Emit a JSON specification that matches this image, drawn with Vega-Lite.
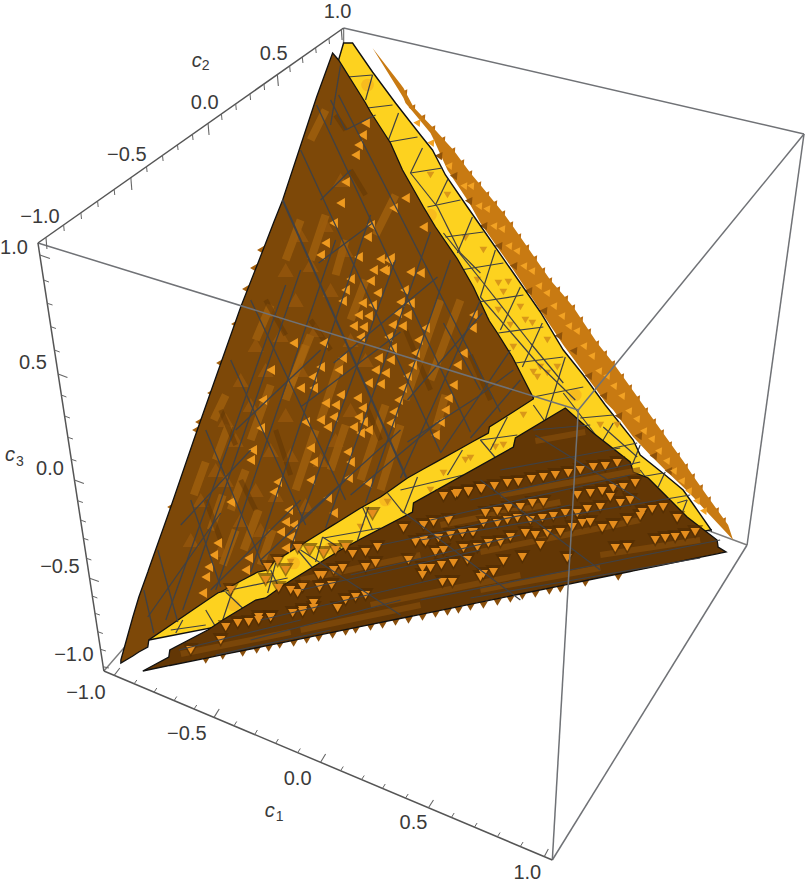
{"$schema":"https://vega.github.io/schema/vega-lite/v6.json","width":807,"height":887,"padding":0,"autosize":{"type":"fit","contains":"padding"},"background":"white","config":{"view":{"stroke":null}},
"datasets":{
"surfD":[{"x":372,"y":48,"y2":48},{"x":400,"y":84,"y2":93},{"x":403,"y":88,"y2":98},{"x":405,"y":92,"y2":103},{"x":413,"y":107,"y2":112.6},{"x":430,"y":125,"y2":133},{"x":433,"y":128,"y2":139},{"x":447,"y":143.4,"y2":170},{"x":453,"y":150,"y2":179},{"x":467,"y":169,"y2":200},{"x":470,"y":173,"y2":205},{"x":480,"y":185,"y2":223},{"x":503,"y":213,"y2":255.7},{"x":513,"y":227,"y2":270},{"x":527,"y":247,"y2":291},{"x":550,"y":280,"y2":325.5},{"x":563,"y":295,"y2":345},{"x":573,"y":307,"y2":358.6},{"x":597,"y":343,"y2":391},{"x":605,"y":353,"y2":402},{"x":613,"y":363,"y2":410},{"x":633,"y":391,"y2":437},{"x":650,"y":415,"y2":455},{"x":665,"y":436,"y2":470},{"x":683,"y":461,"y2":487},{"x":693,"y":476,"y2":497},{"x":705,"y":493,"y2":510},{"x":728,"y":525,"y2":534.6},{"x":733,"y":540,"y2":540}],
"surfY":[{"x":148,"y":640,"y2":640},{"x":338,"y":60,"y2":603},{"x":343,"y":43,"y2":602},{"x":352,"y":43,"y2":600.1},{"x":372,"y":72,"y2":596.2},{"x":395,"y":103,"y2":591.7},{"x":420,"y":135,"y2":586.8},{"x":432,"y":150,"y2":584.4},{"x":445,"y":175,"y2":581.9},{"x":467,"y":207,"y2":577.6},{"x":490,"y":240,"y2":573.1},{"x":513,"y":273,"y2":568.6},{"x":540,"y":312,"y2":563.3},{"x":563,"y":350,"y2":558.8},{"x":583,"y":375,"y2":554.9},{"x":605,"y":405,"y2":550.6},{"x":633,"y":440,"y2":545.1},{"x":640,"y":455,"y2":543.7},{"x":665,"y":475,"y2":538.8},{"x":683,"y":490,"y2":535.3},{"x":695,"y":507,"y2":533},{"x":711,"y":530,"y2":529.8}],
"surfA":[{"x":120,"y":660,"y2":663},{"x":132,"y":617,"y2":656},{"x":138,"y":597,"y2":652},{"x":147,"y":572,"y2":647},{"x":148,"y":569,"y2":640},{"x":170,"y":507,"y2":625},{"x":193,"y":440,"y2":609.3},{"x":217,"y":372,"y2":593},{"x":220,"y":363.5,"y2":592},{"x":240,"y":307,"y2":581},{"x":257,"y":263.7,"y2":572},{"x":267,"y":238,"y2":570},{"x":273,"y":222.6,"y2":562},{"x":282,"y":200,"y2":556.4},{"x":316,"y":97,"y2":535.3},{"x":332,"y":53,"y2":525.4},{"x":338,"y":60,"y2":521.7},{"x":360,"y":95,"y2":508},{"x":365,"y":103,"y2":505.3},{"x":370,"y":112,"y2":502.5},{"x":380,"y":127.5,"y2":497},{"x":390,"y":143,"y2":490},{"x":402,"y":170,"y2":481.5},{"x":407,"y":178.8,"y2":478},{"x":423,"y":207,"y2":469},{"x":435,"y":227,"y2":462.4},{"x":457,"y":259,"y2":450.2},{"x":473,"y":287,"y2":441.3},{"x":487,"y":317,"y2":433.6},{"x":488,"y":319,"y2":433},{"x":489,"y":321,"y2":427},{"x":497,"y":333,"y2":422},{"x":512,"y":357,"y2":412.5},{"x":533,"y":398,"y2":399}],
"surfC":[{"x":142,"y":671,"y2":671},{"x":168,"y":657,"y2":665.7},{"x":169,"y":650,"y2":665.5},{"x":207,"y":630,"y2":657.8},{"x":222,"y":620,"y2":654.7},{"x":255,"y":600,"y2":648},{"x":265,"y":598,"y2":645.9},{"x":283,"y":585,"y2":642.3},{"x":340,"y":550,"y2":630.6},{"x":362,"y":538,"y2":626.2},{"x":412,"y":512,"y2":616},{"x":413,"y":503,"y2":615.8},{"x":513,"y":447,"y2":595.4},{"x":515,"y":438,"y2":595},{"x":565,"y":408,"y2":584.8},{"x":593,"y":433,"y2":579},{"x":630,"y":462,"y2":571.5},{"x":633,"y":472,"y2":570.9},{"x":648,"y":478,"y2":567.9},{"x":663,"y":493,"y2":564.8},{"x":687,"y":517,"y2":559.9},{"x":717,"y":540,"y2":553.8},{"x":718,"y":547,"y2":553.6},{"x":726,"y":552,"y2":552}],
"boxBack":[{"x":343,"y":28,"x2":343,"y2":395},{"x":103,"y":671,"x2":343,"y2":395},{"x":747,"y":545,"x2":343,"y2":395}],
"boxFront":[{"x":37,"y":243,"x2":578,"y2":410},{"x":578,"y":410,"x2":552,"y2":860},{"x":578,"y":410,"x2":804,"y2":134},{"x":343,"y":28,"x2":804,"y2":134},{"x":804,"y":134,"x2":747,"y2":545},{"x":747,"y":545,"x2":552,"y2":860}],
"axes":[{"x":37,"y":243,"x2":343,"y2":28},{"x":37,"y":243,"x2":103,"y2":671},{"x":103,"y":671,"x2":552,"y2":860}],
"ticksMajor":[{"x":45,"y":237.4,"x2":46,"y2":249},{"x":130,"y":177.7,"x2":131,"y2":190},{"x":207.3,"y":123.3,"x2":208.3,"y2":135},{"x":276.7,"y":74.6,"x2":277.7,"y2":86},{"x":340.7,"y":29.6,"x2":341.5,"y2":40},{"x":38.9,"y":255,"x2":49,"y2":258.5},{"x":57.2,"y":374,"x2":66.5,"y2":377.5},{"x":73.5,"y":480,"x2":83,"y2":483.5},{"x":88.7,"y":578.3,"x2":98,"y2":581.5},{"x":102.3,"y":666.7,"x2":108,"y2":668},{"x":113.3,"y":675.3,"x2":119,"y2":668},{"x":213.3,"y":717.4,"x2":218.5,"y2":709},{"x":320,"y":762.3,"x2":325,"y2":754},{"x":428,"y":807.8,"x2":433,"y2":800},{"x":544,"y":856.6,"x2":548,"y2":849}],
"ticksMinor":[{"x":62.7,"y":225,"x2":63.3,"y2":231},{"x":80,"y":212.8,"x2":80.6,"y2":219},{"x":96.7,"y":201,"x2":97.3,"y2":207},{"x":113.3,"y":189.4,"x2":113.9,"y2":195},{"x":145.7,"y":166.6,"x2":146.3,"y2":172},{"x":161.7,"y":155.4,"x2":162.3,"y2":161},{"x":176.7,"y":144.8,"x2":177.3,"y2":150},{"x":191.7,"y":134.3,"x2":192.3,"y2":140},{"x":220.7,"y":114,"x2":221.3,"y2":120},{"x":235,"y":103.9,"x2":235.6,"y2":110},{"x":249.3,"y":93.8,"x2":249.9,"y2":100},{"x":263.3,"y":84,"x2":263.9,"y2":90},{"x":289,"y":66,"x2":289.6,"y2":72},{"x":301.7,"y":57,"x2":302.3,"y2":63},{"x":315,"y":47.7,"x2":315.6,"y2":53},{"x":328.3,"y":38.3,"x2":328.9,"y2":44},{"x":42.7,"y":280,"x2":48,"y2":282},{"x":46.3,"y":303.3,"x2":51.6,"y2":305},{"x":49.9,"y":326.7,"x2":55,"y2":328.5},{"x":53.5,"y":350,"x2":58.8,"y2":352},{"x":60.4,"y":395,"x2":65.5,"y2":397},{"x":63.7,"y":416,"x2":69,"y2":418},{"x":67,"y":437.3,"x2":72,"y2":439},{"x":70.4,"y":459.3,"x2":75.5,"y2":461},{"x":76.7,"y":500.7,"x2":82,"y2":502.5},{"x":79.7,"y":520,"x2":85,"y2":522},{"x":82.5,"y":538.3,"x2":87.5,"y2":540},{"x":85.6,"y":558.3,"x2":90.5,"y2":560},{"x":91.4,"y":596,"x2":96.5,"y2":598},{"x":94.1,"y":613.3,"x2":99,"y2":615},{"x":96.9,"y":631.7,"x2":102,"y2":633.5},{"x":99.7,"y":649.3,"x2":105,"y2":651},{"x":133.3,"y":683.8,"x2":136,"y2":680},{"x":153.3,"y":692.2,"x2":156,"y2":688},{"x":173.3,"y":700.6,"x2":176,"y2":696.5},{"x":193.3,"y":709,"x2":196,"y2":705},{"x":233.3,"y":725.8,"x2":236,"y2":721.5},{"x":254,"y":734.6,"x2":256.7,"y2":730},{"x":275,"y":743.4,"x2":277.7,"y2":739},{"x":297,"y":752.7,"x2":299.7,"y2":748.5},{"x":340,"y":770.8,"x2":342.7,"y2":766.5},{"x":361,"y":779.6,"x2":363.7,"y2":775.5},{"x":382,"y":788.4,"x2":384.7,"y2":784},{"x":405,"y":798.1,"x2":407.7,"y2":794},{"x":451,"y":817.5,"x2":453.7,"y2":813},{"x":474,"y":827.2,"x2":476.7,"y2":823},{"x":497,"y":836.8,"x2":499.7,"y2":832.5},{"x":520,"y":846.5,"x2":522.7,"y2":842}],
"tickLabels":[{"x":337,"y":12,"t":"1.0"},{"x":273,"y":54,"t":"0.5"},{"x":204,"y":103,"t":"0.0"},{"x":126,"y":155,"t":"−0.5"},{"x":39,"y":217,"t":"−1.0"},{"x":13,"y":248,"t":"1.0"},{"x":32,"y":363,"t":"0.5"},{"x":49,"y":469,"t":"0.0"},{"x":59,"y":567,"t":"−0.5"},{"x":73,"y":655,"t":"−1.0"},{"x":85,"y":693,"t":"−1.0"},{"x":186,"y":734,"t":"−0.5"},{"x":297,"y":779,"t":"0.0"},{"x":413,"y":823,"t":"0.5"},{"x":527,"y":873,"t":"1.0"}],
"titleC":[{"x":269,"y":811,"t":"c"},{"x":196,"y":61,"t":"c"},{"x":9,"y":455,"t":"c"}],
"titleSub":[{"x":279,"y":817,"t":"1"},{"x":205,"y":66,"t":"2"},{"x":19,"y":462,"t":"3"}],
"spikeDEdge":[{"x":405,"y":92},{"x":413,"y":107},{"x":423,"y":117},{"x":433,"y":128},{"x":443,"y":139},{"x":453,"y":150},{"x":462,"y":162},{"x":470,"y":173},{"x":479,"y":184},{"x":487,"y":194},{"x":495,"y":203},{"x":503,"y":213},{"x":511,"y":224},{"x":519,"y":236},{"x":527,"y":247},{"x":535,"y":258},{"x":543,"y":270},{"x":550,"y":280},{"x":558,"y":289},{"x":566,"y":298},{"x":573,"y":307},{"x":581,"y":319},{"x":589,"y":331},{"x":597,"y":343},{"x":605,"y":353},{"x":613,"y":363},{"x":622,"y":376},{"x":630,"y":387},{"x":638,"y":398},{"x":646,"y":410},{"x":654,"y":421},{"x":662,"y":432},{"x":670,"y":444},{"x":678,"y":455},{"x":686,"y":466},{"x":693,"y":476},{"x":701,"y":487},{"x":709,"y":499},{"x":717,"y":510},{"x":724,"y":520}],
"spikeDBright":[{"x":450,"y":165},{"x":465,"y":185},{"x":480,"y":205},{"x":495,"y":225},{"x":510,"y":245},{"x":525,"y":265},{"x":540,"y":285},{"x":555,"y":305},{"x":570,"y":325},{"x":585,"y":345},{"x":600,"y":370},{"x":615,"y":385},{"x":630,"y":410},{"x":645,"y":430},{"x":660,"y":450},{"x":675,"y":470},{"x":690,"y":490},{"x":705,"y":510},{"x":432,"y":142},{"x":418,"y":122},{"x":472,"y":185},{"x":488,"y":208},{"x":503,"y":228},{"x":518,"y":250},{"x":533,"y":270},{"x":548,"y":292},{"x":563,"y":315},{"x":578,"y":330},{"x":593,"y":355},{"x":608,"y":375},{"x":623,"y":395},{"x":638,"y":418},{"x":653,"y":438},{"x":668,"y":460},{"x":683,"y":480},{"x":698,"y":500}],
"spikeDDark":[{"x":485,"y":225},{"x":500,"y":245},{"x":515,"y":265},{"x":530,"y":290},{"x":545,"y":310},{"x":560,"y":335},{"x":575,"y":350},{"x":590,"y":375},{"x":605,"y":395},{"x":620,"y":415},{"x":640,"y":435},{"x":655,"y":455},{"x":670,"y":470},{"x":470,"y":200},{"x":455,"y":175},{"x":440,"y":155}],
"hotY":[{"x":367,"y":85},{"x":233,"y":605},{"x":293,"y":563},{"x":385,"y":500},{"x":650,"y":490},{"x":430,"y":240},{"x":430,"y":215},{"x":515,"y":380},{"x":575,"y":395},{"x":330,"y":548}],
"blotY":[{"x":498,"y":283},{"x":508,"y":282},{"x":525,"y":320},{"x":532,"y":323},{"x":510,"y":325},{"x":498,"y":310},{"x":520,"y":307},{"x":483,"y":250},{"x":537,"y":377},{"x":547,"y":340},{"x":513,"y":347},{"x":477,"y":280},{"x":503,"y":292},{"x":557,"y":367},{"x":540,"y":367},{"x":503,"y":445},{"x":495,"y":447},{"x":523,"y":415},{"x":600,"y":425},{"x":617,"y":425},{"x":533,"y":372},{"x":547,"y":373},{"x":465,"y":460},{"x":443,"y":473},{"x":470,"y":458},{"x":430,"y":175},{"x":465,"y":238},{"x":447,"y":195},{"x":290,"y":562},{"x":387,"y":502},{"x":360,"y":527},{"x":615,"y":470},{"x":430,"y":490}],
"meshY":[{"x":347,"y":77,"x2":372,"y2":75},{"x":367,"y":108,"x2":392,"y2":105},{"x":388,"y":142,"x2":417,"y2":137},{"x":410,"y":173,"x2":442,"y2":168},{"x":427,"y":207,"x2":460,"y2":200},{"x":445,"y":237,"x2":483,"y2":232},{"x":460,"y":270,"x2":503,"y2":263},{"x":478,"y":302,"x2":523,"y2":295},{"x":498,"y":333,"x2":543,"y2":327},{"x":515,"y":363,"x2":563,"y2":357},{"x":533,"y":397,"x2":583,"y2":387},{"x":580,"y":418,"x2":613,"y2":415},{"x":613,"y":448,"x2":637,"y2":443},{"x":640,"y":477,"x2":663,"y2":473},{"x":677,"y":503,"x2":687,"y2":500},{"x":480,"y":440,"x2":517,"y2":435},{"x":220,"y":592,"x2":287,"y2":578},{"x":323,"y":538,"x2":380,"y2":528},{"x":400,"y":490,"x2":463,"y2":475},{"x":170,"y":630,"x2":205,"y2":625},{"x":372,"y":75,"x2":365,"y2":100},{"x":398,"y":113,"x2":388,"y2":140},{"x":422,"y":148,"x2":410,"y2":173},{"x":448,"y":178,"x2":435,"y2":205},{"x":472,"y":217,"x2":457,"y2":253},{"x":495,"y":250,"x2":480,"y2":297},{"x":520,"y":287,"x2":500,"y2":330},{"x":542,"y":323,"x2":522,"y2":367},{"x":565,"y":357,"x2":545,"y2":420},{"x":613,"y":423,"x2":600,"y2":445},{"x":640,"y":445,"x2":632,"y2":465},{"x":665,"y":472,"x2":658,"y2":487},{"x":687,"y":500,"x2":682,"y2":513},{"x":507,"y":417,"x2":490,"y2":450},{"x":462,"y":450,"x2":447,"y2":475},{"x":417,"y":477,"x2":403,"y2":513},{"x":368,"y":507,"x2":357,"y2":540},{"x":322,"y":537,"x2":315,"y2":562},{"x":275,"y":563,"x2":267,"y2":593},{"x":232,"y":590,"x2":222,"y2":620},{"x":182,"y":620,"x2":175,"y2":633},{"x":410,"y":173,"x2":437,"y2":207},{"x":437,"y":207,"x2":460,"y2":253},{"x":460,"y":253,"x2":480,"y2":273},{"x":443,"y":233,"x2":483,"y2":283},{"x":483,"y":283,"x2":530,"y2":343},{"x":530,"y":343,"x2":563,"y2":383},{"x":480,"y":297,"x2":537,"y2":363},{"x":537,"y":363,"x2":575,"y2":400},{"x":563,"y":393,"x2":607,"y2":450},{"x":603,"y":427,"x2":637,"y2":457},{"x":480,"y":440,"x2":497,"y2":460},{"x":533,"y":405,"x2":545,"y2":422},{"x":387,"y":493,"x2":403,"y2":513},{"x":362,"y":507,"x2":372,"y2":530},{"x":322,"y":537,"x2":342,"y2":550},{"x":297,"y":550,"x2":312,"y2":568},{"x":270,"y":570,"x2":278,"y2":587},{"x":225,"y":592,"x2":247,"y2":613},{"x":205,"y":610,"x2":215,"y2":627},{"x":640,"y":470,"x2":670,"y2":510}],
"streakLight":[{"x":215,"y":460,"x2":228,"y2":425},{"x":193,"y":495,"x2":205,"y2":462},{"x":230,"y":510,"x2":245,"y2":470},{"x":210,"y":530,"x2":222,"y2":495},{"x":243,"y":550,"x2":258,"y2":510},{"x":222,"y":565,"x2":235,"y2":530},{"x":260,"y":565,"x2":272,"y2":530},{"x":285,"y":400,"x2":305,"y2":345},{"x":320,"y":420,"x2":340,"y2":360},{"x":290,"y":385,"x2":310,"y2":335},{"x":213,"y":420,"x2":225,"y2":395},{"x":285,"y":260,"x2":300,"y2":220},{"x":310,"y":260,"x2":325,"y2":215},{"x":335,"y":275,"x2":345,"y2":240},{"x":380,"y":490,"x2":400,"y2":425},{"x":405,"y":400,"x2":440,"y2":300},{"x":430,"y":380,"x2":460,"y2":300},{"x":360,"y":480,"x2":385,"y2":405},{"x":435,"y":430,"x2":445,"y2":395},{"x":350,"y":320,"x2":365,"y2":280},{"x":295,"y":490,"x2":315,"y2":430},{"x":330,"y":470,"x2":345,"y2":425},{"x":250,"y":440,"x2":270,"y2":385},{"x":255,"y":340,"x2":270,"y2":305},{"x":310,"y":140,"x2":325,"y2":110},{"x":375,"y":235,"x2":395,"y2":195}],
"streakDark":[{"x":345,"y":130,"x2":335,"y2":115},{"x":350,"y":170,"x2":365,"y2":195},{"x":405,"y":330,"x2":430,"y2":390},{"x":470,"y":355,"x2":490,"y2":400},{"x":275,"y":430,"x2":290,"y2":475},{"x":240,"y":480,"x2":255,"y2":510},{"x":310,"y":320,"x2":330,"y2":350},{"x":365,"y":405,"x2":380,"y2":440},{"x":205,"y":500,"x2":220,"y2":540},{"x":265,"y":300,"x2":285,"y2":335},{"x":220,"y":410,"x2":235,"y2":445}],
"spikeA":[{"x":340,"y":203},{"x":333,"y":223},{"x":370,"y":225},{"x":367,"y":237},{"x":325,"y":243},{"x":320,"y":255},{"x":358,"y":257},{"x":380,"y":259},{"x":388,"y":260},{"x":373,"y":270},{"x":385,"y":271},{"x":350,"y":279},{"x":370,"y":281},{"x":410,"y":272},{"x":420,"y":273},{"x":345,"y":290},{"x":404,"y":290},{"x":377,"y":293},{"x":342,"y":301},{"x":400,"y":302},{"x":410,"y":303},{"x":362,"y":303},{"x":372,"y":305},{"x":358,"y":315},{"x":368,"y":316},{"x":397,"y":313},{"x":407,"y":315},{"x":353,"y":326},{"x":363,"y":327},{"x":392,"y":325},{"x":402,"y":326},{"x":425,"y":328},{"x":473,"y":315},{"x":472,"y":328},{"x":360,"y":337},{"x":388,"y":337},{"x":418,"y":340},{"x":463,"y":353},{"x":392,"y":348},{"x":415,"y":353},{"x":378,"y":358},{"x":390,"y":360},{"x":375,"y":370},{"x":385,"y":373},{"x":412,"y":365},{"x":457,"y":365},{"x":368,"y":383},{"x":407,"y":376},{"x":380,"y":384},{"x":453,"y":385},{"x":402,"y":388},{"x":448,"y":398},{"x":398,"y":400},{"x":445,"y":410},{"x":393,"y":412},{"x":440,"y":422},{"x":435,"y":435},{"x":390,"y":423},{"x":323,"y":343},{"x":342,"y":358},{"x":338,"y":370},{"x":320,"y":367},{"x":313,"y":388},{"x":340,"y":395},{"x":335,"y":405},{"x":325,"y":403},{"x":357,"y":398},{"x":362,"y":408},{"x":333,"y":417},{"x":358,"y":417},{"x":363,"y":422},{"x":353,"y":427},{"x":360,"y":433},{"x":320,"y":420},{"x":305,"y":422},{"x":260,"y":428},{"x":252,"y":450},{"x":277,"y":482},{"x":273,"y":492},{"x":288,"y":510},{"x":285,"y":522},{"x":293,"y":525},{"x":280,"y":532},{"x":290,"y":537},{"x":285,"y":548},{"x":217,"y":543},{"x":230,"y":502},{"x":213,"y":555},{"x":208,"y":567},{"x":205,"y":577},{"x":202,"y":593},{"x":248,"y":558},{"x":245,"y":570},{"x":313,"y":462},{"x":310,"y":480},{"x":327,"y":498},{"x":333,"y":513},{"x":347,"y":452},{"x":350,"y":462},{"x":327,"y":427},{"x":310,"y":448},{"x":367,"y":483},{"x":368,"y":430},{"x":348,"y":478},{"x":250,"y":460},{"x":365,"y":123},{"x":362,"y":135},{"x":358,"y":145},{"x":355,"y":155},{"x":345,"y":182},{"x":393,"y":208},{"x":405,"y":198},{"x":423,"y":227},{"x":390,"y":258},{"x":383,"y":270},{"x":293,"y":343},{"x":312,"y":377},{"x":300,"y":388},{"x":270,"y":370},{"x":262,"y":400}],
"spikeAEdge":[{"x":260,"y":250},{"x":253,"y":268},{"x":245,"y":289},{"x":234,"y":324},{"x":219,"y":363},{"x":210,"y":393},{"x":198,"y":422},{"x":195,"y":430},{"x":170,"y":507}],
"moundA":[{"x":200,"y":500},{"x":215,"y":470},{"x":190,"y":540},{"x":225,"y":420},{"x":240,"y":380},{"x":255,"y":345},{"x":270,"y":310},{"x":285,"y":270},{"x":300,"y":235},{"x":235,"y":440},{"x":250,"y":405},{"x":265,"y":370},{"x":280,"y":335},{"x":295,"y":300},{"x":310,"y":265},{"x":325,"y":225},{"x":340,"y":180},{"x":225,"y":480},{"x":240,"y":520},{"x":255,"y":490},{"x":270,"y":450},{"x":285,"y":415},{"x":300,"y":370},{"x":315,"y":330},{"x":330,"y":290},{"x":345,"y":250},{"x":220,"y":550},{"x":260,"y":530},{"x":275,"y":495},{"x":290,"y":455},{"x":305,"y":505},{"x":320,"y":460},{"x":335,"y":440},{"x":350,"y":410},{"x":365,"y":360},{"x":350,"y":340}],
"meshA":[{"x":143,"y":590,"x2":153,"y2":633},{"x":157,"y":550,"x2":177,"y2":622},{"x":190,"y":500,"x2":220,"y2":587},{"x":205,"y":430,"x2":262,"y2":565},{"x":230,"y":360,"x2":305,"y2":525},{"x":250,"y":300,"x2":345,"y2":500},{"x":300,"y":150,"x2":440,"y2":452},{"x":316,"y":105,"x2":470,"y2":432},{"x":338,"y":95,"x2":500,"y2":412},{"x":443,"y":323,"x2":480,"y2":390},{"x":165,"y":620,"x2":285,"y2":285},{"x":182,"y":610,"x2":300,"y2":270},{"x":215,"y":590,"x2":335,"y2":240},{"x":250,"y":572,"x2":370,"y2":215},{"x":290,"y":548,"x2":395,"y2":260},{"x":325,"y":528,"x2":430,"y2":232},{"x":365,"y":503,"x2":450,"y2":260},{"x":400,"y":478,"x2":480,"y2":300},{"x":440,"y":453,"x2":510,"y2":350},{"x":470,"y":438,"x2":520,"y2":380},{"x":147,"y":617,"x2":220,"y2":513},{"x":180,"y":525,"x2":250,"y2":450},{"x":210,"y":590,"x2":300,"y2":500},{"x":235,"y":430,"x2":320,"y2":350},{"x":260,"y":560,"x2":345,"y2":480},{"x":300,"y":407,"x2":400,"y2":332},{"x":333,"y":363,"x2":437,"y2":277},{"x":318,"y":263,"x2":372,"y2":223},{"x":300,"y":520,"x2":400,"y2":430},{"x":407,"y":400,"x2":482,"y2":313},{"x":407,"y":442,"x2":477,"y2":397},{"x":477,"y":397,"x2":513,"y2":370},{"x":350,"y":495,"x2":440,"y2":420},{"x":330,"y":100,"x2":345,"y2":130},{"x":345,"y":130,"x2":375,"y2":115},{"x":320,"y":200,"x2":350,"y2":170},{"x":340,"y":65,"x2":330,"y2":125}],
"meshAStrong":[{"x":282,"y":200,"x2":406,"y2":478}],
"spikeC":[{"x":617,"y":463},{"x":605,"y":466},{"x":593,"y":467},{"x":580,"y":470},{"x":568,"y":473},{"x":555,"y":475},{"x":543,"y":477},{"x":531,"y":479},{"x":518,"y":482},{"x":507,"y":483},{"x":494,"y":486},{"x":481,"y":489},{"x":468,"y":491},{"x":455,"y":494},{"x":443,"y":496},{"x":635,"y":483},{"x":623,"y":487},{"x":613,"y":488},{"x":602,"y":491},{"x":590,"y":493},{"x":577,"y":495},{"x":543,"y":502},{"x":532,"y":503},{"x":520,"y":507},{"x":508,"y":508},{"x":497,"y":511},{"x":485,"y":513},{"x":663,"y":507},{"x":652,"y":509},{"x":642,"y":512},{"x":630,"y":500},{"x":620,"y":503},{"x":610,"y":497},{"x":600,"y":507},{"x":587,"y":509},{"x":577,"y":513},{"x":565,"y":513},{"x":553,"y":516},{"x":542,"y":518},{"x":530,"y":520},{"x":517,"y":518},{"x":507,"y":520},{"x":497,"y":523},{"x":483,"y":523},{"x":473,"y":532},{"x":462,"y":533},{"x":450,"y":535},{"x":438,"y":538},{"x":423,"y":540},{"x":415,"y":542},{"x":403,"y":528},{"x":677,"y":518},{"x":640,"y":516},{"x":627,"y":520},{"x":613,"y":525},{"x":602,"y":528},{"x":590,"y":522},{"x":582,"y":523},{"x":572,"y":527},{"x":560,"y":532},{"x":547,"y":533},{"x":535,"y":535},{"x":525,"y":533},{"x":510,"y":537},{"x":500,"y":542},{"x":488,"y":543},{"x":477,"y":547},{"x":463,"y":548},{"x":443,"y":550},{"x":435,"y":552},{"x":425,"y":542},{"x":695,"y":532},{"x":685,"y":535},{"x":675,"y":537},{"x":665,"y":538},{"x":655,"y":540},{"x":627,"y":547},{"x":615,"y":548},{"x":567,"y":558},{"x":540,"y":545},{"x":522,"y":557},{"x":503,"y":561},{"x":493,"y":572},{"x":483,"y":574},{"x":467,"y":560},{"x":452,"y":582},{"x":442,"y":582},{"x":422,"y":568},{"x":408,"y":560},{"x":480,"y":488},{"x":468,"y":492},{"x":457,"y":493},{"x":433,"y":522},{"x":423,"y":525},{"x":448,"y":520},{"x":472,"y":532},{"x":462,"y":533},{"x":372,"y":514},{"x":377,"y":547},{"x":365,"y":552},{"x":352,"y":554},{"x":345,"y":547},{"x":335,"y":550},{"x":323,"y":553},{"x":309,"y":550},{"x":297,"y":548},{"x":277,"y":561},{"x":265,"y":580},{"x":267,"y":567},{"x":230,"y":590},{"x":480,"y":577},{"x":453,"y":563},{"x":441,"y":565},{"x":430,"y":568},{"x":422,"y":575},{"x":375,"y":563},{"x":365,"y":567},{"x":342,"y":568},{"x":333,"y":570},{"x":322,"y":575},{"x":302,"y":587},{"x":290,"y":590},{"x":278,"y":588},{"x":365,"y":595},{"x":355,"y":597},{"x":345,"y":600},{"x":331,"y":585},{"x":319,"y":587},{"x":302,"y":610},{"x":292,"y":613},{"x":270,"y":617},{"x":258,"y":620},{"x":337,"y":608},{"x":313,"y":603},{"x":225,"y":627},{"x":237,"y":623},{"x":248,"y":622},{"x":258,"y":617},{"x":270,"y":617},{"x":302,"y":612},{"x":313,"y":608},{"x":318,"y":575},{"x":285,"y":570},{"x":297,"y":593},{"x":220,"y":640},{"x":190,"y":650}],
"spikeCBottom":[{"x":205,"y":660},{"x":222,"y":656},{"x":242,"y":653},{"x":256,"y":650},{"x":268,"y":648},{"x":279,"y":645},{"x":293,"y":643},{"x":306,"y":640},{"x":318,"y":638},{"x":332,"y":635},{"x":345,"y":632},{"x":355,"y":630},{"x":370,"y":627},{"x":382,"y":625},{"x":395,"y":622},{"x":408,"y":620},{"x":422,"y":617},{"x":435,"y":614},{"x":447,"y":612},{"x":458,"y":610},{"x":470,"y":607},{"x":483,"y":605},{"x":497,"y":602},{"x":510,"y":599},{"x":522,"y":596},{"x":535,"y":594},{"x":549,"y":591},{"x":560,"y":589},{"x":585,"y":583},{"x":618,"y":577}],
"bandC":[{"x":535,"y":441,"x2":585,"y2":432},{"x":600,"y":555,"x2":700,"y2":540},{"x":480,"y":590,"x2":600,"y2":568},{"x":300,"y":630,"x2":420,"y2":605},{"x":180,"y":654,"x2":290,"y2":632},{"x":440,"y":525,"x2":560,"y2":502},{"x":300,"y":580,"x2":420,"y2":555},{"x":480,"y":552,"x2":640,"y2":520},{"x":370,"y":605,"x2":520,"y2":575},{"x":500,"y":495,"x2":640,"y2":470}],
"meshC":[{"x":178,"y":650,"x2":300,"y2":620},{"x":215,"y":655,"x2":330,"y2":630},{"x":250,"y":640,"x2":400,"y2":600},{"x":260,"y":620,"x2":440,"y2":578},{"x":300,"y":590,"x2":480,"y2":550},{"x":350,"y":575,"x2":520,"y2":535},{"x":380,"y":545,"x2":570,"y2":505},{"x":430,"y":520,"x2":630,"y2":475},{"x":470,"y":500,"x2":640,"y2":462},{"x":500,"y":470,"x2":620,"y2":448},{"x":420,"y":600,"x2":720,"y2":540},{"x":470,"y":598,"x2":700,"y2":558},{"x":420,"y":540,"x2":690,"y2":495},{"x":535,"y":435,"x2":640,"y2":500},{"x":480,"y":480,"x2":600,"y2":570},{"x":400,"y":510,"x2":520,"y2":600},{"x":300,"y":550,"x2":400,"y2":615},{"x":533,"y":430,"x2":590,"y2":425}]
},
"encoding":{"x":{"field":"x","type":"quantitative","scale":{"domain":[0,807],"nice":false,"zero":false},"axis":null},"y":{"field":"y","type":"quantitative","scale":{"domain":[887,0],"nice":false,"zero":false},"axis":null}},
"layer":[
{"data":{"name":"boxBack"},"mark":{"type":"rule","color":"#7d7d7d","strokeWidth":1.4},"encoding":{"x2":{"field":"x2"},"y2":{"field":"y2"}}},
{"data":{"name":"spikeDEdge"},"mark":{"type":"point","shape":"triangle-up","filled":true,"color":"#b96c12","opacity":1,"size":55,"angle":35}},
{"data":{"name":"surfD"},"mark":{"type":"area","orient":"vertical","fill":"#c87a12"},"encoding":{"y2":{"field":"y2"}}},
{"data":{"name":"spikeDDark"},"mark":{"type":"point","shape":"triangle-up","filled":true,"color":"#8f5209","opacity":1,"size":70,"angle":35}},
{"data":{"name":"spikeDBright"},"mark":{"type":"point","shape":"triangle-up","filled":true,"color":"#f2a224","opacity":1,"size":60,"angle":35}},
{"data":{"name":"surfY"},"mark":{"type":"area","orient":"vertical","fill":"#fdd21f","stroke":"#111111","strokeWidth":1.4},"encoding":{"y2":{"field":"y2"}}},
{"data":{"name":"hotY"},"mark":{"type":"circle","color":"#ef9a1e","opacity":0.4,"size":160}},
{"data":{"name":"blotY"},"mark":{"type":"point","shape":"triangle-down","filled":true,"color":"#d08a18","opacity":0.8,"size":60}},
{"data":{"name":"meshY"},"mark":{"type":"rule","color":"#3d3f42","strokeWidth":1.2},"encoding":{"x2":{"field":"x2"},"y2":{"field":"y2"}}},
{"data":{"name":"spikeAEdge"},"mark":{"type":"point","shape":"triangle-left","filled":true,"color":"#a5610e","opacity":1,"size":70}},
{"data":{"name":"surfA"},"mark":{"type":"area","orient":"vertical","fill":"#7d4808","stroke":"#111111","strokeWidth":1.3},"encoding":{"y2":{"field":"y2"}}},
{"data":{"name":"streakLight"},"mark":{"type":"rule","color":"#b06c10","strokeWidth":8,"opacity":0.55},"encoding":{"x2":{"field":"x2"},"y2":{"field":"y2"}}},
{"data":{"name":"moundA"},"mark":{"type":"point","shape":"triangle-up","filled":true,"color":"#9c5c0d","opacity":0.6,"size":260}},
{"data":{"name":"streakDark"},"mark":{"type":"rule","color":"#5e3404","strokeWidth":5,"opacity":0.5},"encoding":{"x2":{"field":"x2"},"y2":{"field":"y2"}}},
{"data":{"name":"spikeA"},"mark":{"type":"point","shape":"triangle-left","filled":true,"color":"#ee9a1f","opacity":1,"size":100}},
{"data":{"name":"meshA"},"mark":{"type":"rule","color":"#3f4145","strokeWidth":1.3},"encoding":{"x2":{"field":"x2"},"y2":{"field":"y2"}}},
{"data":{"name":"meshAStrong"},"mark":{"type":"rule","color":"#3f4145","strokeWidth":2},"encoding":{"x2":{"field":"x2"},"y2":{"field":"y2"}}},
{"data":{"name":"spikeCBottom"},"mark":{"type":"point","shape":"triangle-down","filled":true,"color":"#8a4f0b","opacity":1,"size":80}},
{"data":{"name":"surfC"},"mark":{"type":"area","orient":"vertical","fill":"#633705","stroke":"#111111","strokeWidth":1.3},"encoding":{"y2":{"field":"y2"}}},
{"data":{"name":"bandC"},"mark":{"type":"rule","color":"#8a500c","strokeWidth":6,"opacity":0.6},"encoding":{"x2":{"field":"x2"},"y2":{"field":"y2"}}},
{"data":{"name":"spikeC"},"mark":{"type":"point","shape":"triangle-down","filled":true,"color":"#4d2902","opacity":0.55,"size":260}},
{"data":{"name":"spikeC"},"mark":{"type":"point","shape":"triangle-down","filled":true,"color":"#e58d1d","opacity":1,"size":85}},
{"data":{"name":"meshC"},"mark":{"type":"rule","color":"#3f4145","strokeWidth":1.2},"encoding":{"x2":{"field":"x2"},"y2":{"field":"y2"}}},
{"data":{"name":"boxFront"},"mark":{"type":"rule","color":"#707276","strokeWidth":1.5},"encoding":{"x2":{"field":"x2"},"y2":{"field":"y2"}}},
{"data":{"name":"axes"},"mark":{"type":"rule","color":"#555555","strokeWidth":1.5},"encoding":{"x2":{"field":"x2"},"y2":{"field":"y2"}}},
{"data":{"name":"ticksMajor"},"mark":{"type":"rule","color":"#666666","strokeWidth":1.1},"encoding":{"x2":{"field":"x2"},"y2":{"field":"y2"}}},
{"data":{"name":"ticksMinor"},"mark":{"type":"rule","color":"#666666","strokeWidth":1},"encoding":{"x2":{"field":"x2"},"y2":{"field":"y2"}}},
{"data":{"name":"tickLabels"},"mark":{"type":"text","font":"Liberation Sans","fontSize":20,"color":"#3a3a3a","align":"center","baseline":"middle"},"encoding":{"text":{"field":"t"}}},
{"data":{"name":"titleC"},"mark":{"type":"text","font":"Liberation Sans","fontStyle":"italic","fontSize":20,"color":"#3a3a3a","align":"center","baseline":"middle"},"encoding":{"text":{"field":"t"}}},
{"data":{"name":"titleSub"},"mark":{"type":"text","font":"Liberation Sans","fontSize":14,"color":"#3a3a3a","align":"center","baseline":"middle"},"encoding":{"text":{"field":"t"}}}
]}
